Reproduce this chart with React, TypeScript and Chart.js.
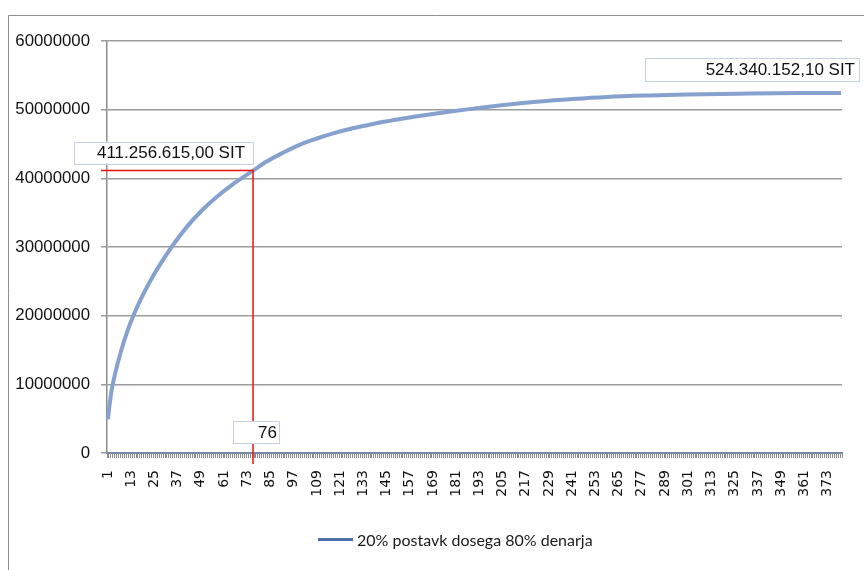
import { useEffect, useRef } from "react";
import { Chart, registerables } from "chart.js";

Chart.register(...registerables);

// Items ranked by value, 1..ITEM_COUNT on the category axis
const ITEM_COUNT = 380;
const ITEM_LABELS: string[] = Array.from({ length: ITEM_COUNT }, (_, i) => String(i + 1));
const LABEL_EVERY = 12;

// Cumulative amount (axis units: 10 SIT) at selected ranks
const RANKS = [
  1, 2, 3, 5, 8, 11, 14, 18, 23, 27, 34, 42, 49, 57, 66, 76, 83, 92, 100, 109,
  117, 126, 135, 143, 152, 160, 169, 178, 190, 207, 224, 241, 259, 281, 300, 332, 360, 380,
];
const CUMULATIVE = [
  4900000, 7400000, 9320000, 11920000, 15070000, 17710000, 19930000, 22410000,
  25110000, 27030000, 30040000, 33000000, 35170000, 37250000, 39230000, 41125661.5,
  42450000, 43800000, 44870000, 45800000, 46520000, 47180000, 47740000, 48200000,
  48640000, 49000000, 49380000, 49720000, 50150000, 50730000, 51200000, 51560000,
  51860000, 52080000, 52220000, 52340000, 52410000, 52434015.21,
];

const Y_MIN = 0;
const Y_MAX = 60000000;
const Y_STEP = 10000000;

const SIT_PER_UNIT = 10;
const MARK_RANK = 76;
const SERIES_NAME = "20% postavk dosega 80% denarja";

const LINE_COLOR = "#87a1cf";
const LEGEND_LINE_COLOR = "#4d6ea9";
const MARK_COLOR = "#ee1111";
const BOX_BORDER = "#c8d1e3";
const VALUE_FONT = "17px 'Liberation Sans', Arial, sans-serif";

function formatSIT(v: number): string {
  const [intPart, dec] = v.toFixed(2).split(".");
  const grouped = intPart.replace(/\B(?=(\d{3})+(?!\d))/g, ".");
  return `${grouped},${dec} SIT`;
}

function drawBox(
  ctx: CanvasRenderingContext2D,
  text: string,
  right: number,
  top: number,
  width: number,
  height: number,
  textInset: number
) {
  ctx.save();
  ctx.fillStyle = "#ffffff";
  ctx.fillRect(right - width, top, width, height);
  ctx.strokeStyle = BOX_BORDER;
  ctx.lineWidth = 1;
  ctx.strokeRect(Math.round(right - width) + 0.5, Math.round(top) + 0.5, Math.round(width), Math.round(height));
  ctx.fillStyle = "#111111";
  ctx.font = VALUE_FONT;
  ctx.textAlign = "right";
  ctx.textBaseline = "middle";
  ctx.fillText(text, right - textInset, top + height / 2 + 1);
  ctx.restore();
}

const decorPlugin = {
  id: "decor",
  beforeDraw(chart: any) {
    const ctx = chart.ctx as CanvasRenderingContext2D;
    ctx.save();
    ctx.fillStyle = "#ffffff";
    ctx.fillRect(0, 0, chart.width, chart.height);
    ctx.strokeStyle = "#8f8f8f";
    ctx.lineWidth = 1;
    ctx.beginPath();
    ctx.moveTo(8.5, chart.height + 2);
    ctx.lineTo(8.5, 15.5);
    ctx.lineTo(chart.width + 2, 15.5);
    ctx.stroke();
    ctx.restore();
  },
  afterDraw(chart: any) {
    const ctx = chart.ctx as CanvasRenderingContext2D;
    const x = chart.scales.x;
    const y = chart.scales.y;
    const area = chart.chartArea;

    const markIdx = RANKS.indexOf(MARK_RANK);
    const markValue = CUMULATIVE[markIdx];
    const mx = x.getPixelForValue(MARK_RANK - 1);
    const my = y.getPixelForValue(markValue);

    // guide lines to the 80% point
    ctx.save();
    ctx.strokeStyle = MARK_COLOR;
    ctx.lineWidth = 1.5;
    ctx.beginPath();
    ctx.moveTo(area.left - 6, my);
    ctx.lineTo(mx, my);
    ctx.lineTo(mx, area.bottom + 11);
    ctx.stroke();
    ctx.restore();

    const markText = formatSIT(markValue * SIT_PER_UNIT);
    drawBox(ctx, markText, mx, my - 29, 179, 22, 8);
    drawBox(ctx, String(MARK_RANK), mx + 26, area.bottom - 32, 46, 22, 2);

    const last = CUMULATIVE[CUMULATIVE.length - 1];
    const ly = y.getPixelForValue(last);
    drawBox(ctx, formatSIT(last * SIT_PER_UNIT), area.right + 17, ly - 35, 214, 23, 4);

    // legend
    ctx.save();
    ctx.strokeStyle = LEGEND_LINE_COLOR;
    ctx.lineWidth = 3;
    ctx.beginPath();
    ctx.moveTo(318, 539.5);
    ctx.lineTo(353, 539.5);
    ctx.stroke();
    ctx.fillStyle = "#1a1a1a";
    ctx.font = "16px Lato, 'Open Sans', sans-serif";
    ctx.textAlign = "left";
    ctx.textBaseline = "middle";
    ctx.fillText(SERIES_NAME, 357, 541);
    ctx.restore();
  },
};

export default function App() {
  const canvasRef = useRef<HTMLCanvasElement | null>(null);

  useEffect(() => {
    const canvas = canvasRef.current;
    if (!canvas) return;
    const axisFont = { family: "'Liberation Sans', Arial, sans-serif", size: 16.8 };

    const chart = new Chart(canvas, {
      type: "line",
      data: {
        labels: ITEM_LABELS,
        datasets: [
          {
            label: SERIES_NAME,
            data: RANKS.map((r, i) => ({ x: String(r), y: CUMULATIVE[i] })),
            borderColor: LINE_COLOR,
            borderWidth: 4,
            pointRadius: 0,
            cubicInterpolationMode: "monotone",
            fill: false,
          },
        ],
      },
      options: {
        responsive: false,
        animation: false,
        events: [],
        layout: { autoPadding: false, padding: { left: 0, top: 41, right: 22, bottom: 0 } },
        plugins: {
          legend: { display: false },
          tooltip: { enabled: false },
          title: { display: false },
        },
        scales: {
          x: {
            type: "category",
            offset: true,
            grid: {
              display: true,
              drawOnChartArea: false,
              drawTicks: true,
              tickLength: 5,
              color: "#8c8c8c",
              lineWidth: 1,
              offset: true,
            },
            border: { display: true, color: "#7889a6", width: 2 },
            ticks: {
              autoSkip: false,
              minRotation: 90,
              maxRotation: 90,
              padding: 12,
              color: "#111111",
              font: { family: "'DejaVu Sans', Verdana, sans-serif", size: 14 },
              callback: (_v: any, i: number) => (i % LABEL_EVERY === 0 ? ITEM_LABELS[i] : ""),
            },
            afterFit: (s: any) => {
              s.height = 117;
              s.paddingLeft = 0;
              s.paddingRight = 0;
              s.paddingTop = 0;
              s.paddingBottom = 0;
            },
          },
          y: {
            min: Y_MIN,
            max: Y_MAX,
            grid: { color: "#9c9c9c", lineWidth: 1.5, tickLength: 6, drawTicks: true },
            border: { display: true, color: "#8c8c8c", width: 1.5 },
            ticks: {
              stepSize: Y_STEP,
              padding: 11,
              color: "#111111",
              font: axisFont,
              callback: (v: any) => String(v),
            },
            afterFit: (s: any) => {
              s.width = 107;
              s.paddingLeft = 0;
              s.paddingRight = 0;
              s.paddingTop = 0;
              s.paddingBottom = 0;
            },
          },
        },
      },
      plugins: [decorPlugin],
    });

    return () => chart.destroy();
  }, []);

  return (
    <canvas
      ref={canvasRef}
      width={864}
      height={570}
      style={{ position: "absolute", left: 0, top: 0, width: 864, height: 570, display: "block" }}
    />
  );
}
